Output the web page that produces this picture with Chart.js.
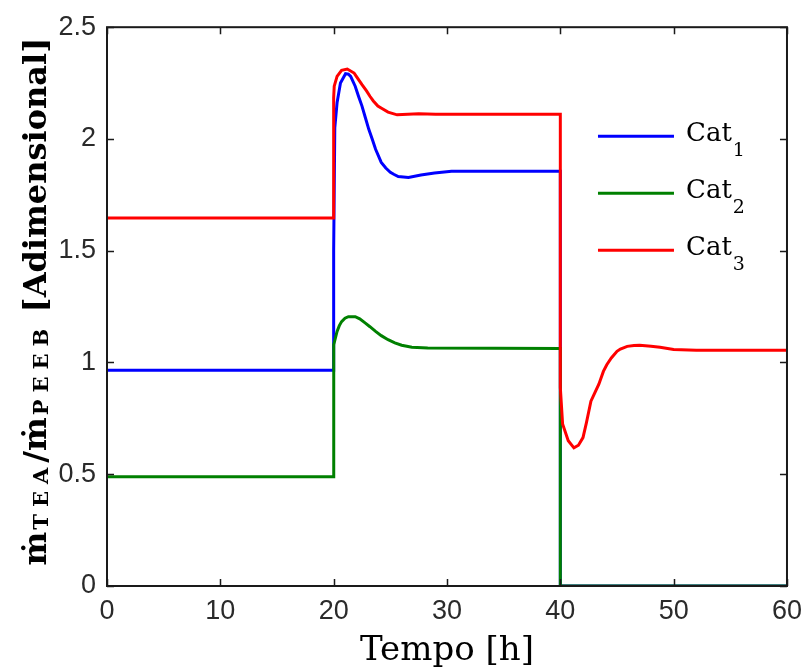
<!DOCTYPE html>
<html>
<head>
<meta charset="utf-8">
<script src="https://cdn.jsdelivr.net/npm/chart.js@4.4.1/dist/chart.umd.min.js"></script>
<style>
html,body{margin:0;padding:0;background:#fff;}
canvas{display:block;}
</style>
</head>
<body>
<canvas id="c" width="811" height="672"></canvas>
<script>
// ---- data ----
const seriesLabels = ['Cat1', 'Cat2', 'Cat3'];
const seriesColors = ['#0000ff', '#008000', '#ff0000'];

const cat1Time  = [0, 20, 20, 20.1, 20.3, 20.6, 21.05, 21.3, 21.5, 21.9, 22.2, 22.5, 22.8, 23.1, 23.4, 23.7, 24.2, 24.6, 25.0, 25.3, 25.7, 26.6, 27.7, 28.9, 30.4, 40, 40, 60];
const cat1Value = [0.965, 0.965, 1.50, 2.05, 2.162, 2.25, 2.292, 2.29, 2.28, 2.236, 2.19, 2.147, 2.095, 2.043, 2.0, 1.954, 1.895, 1.87, 1.851, 1.842, 1.832, 1.828, 1.839, 1.848, 1.855, 1.855, 0, 0];

const cat2Time  = [0, 20, 20, 20, 20.02, 20.3, 20.5, 20.7, 21.0, 21.3, 21.9, 22.3, 22.8, 23.2, 23.7, 24.2, 24.8, 25.4, 26.0, 26.9, 28.3, 40, 40, 60];
const cat2Value = [0.489, 0.489, 1.05, 0.76, 1.08, 1.139, 1.165, 1.183, 1.198, 1.205, 1.205, 1.195, 1.176, 1.16, 1.139, 1.12, 1.102, 1.088, 1.077, 1.068, 1.065, 1.063, 0, 0];

const cat3Time  = [0, 20, 20, 20.05, 20.3, 20.7, 21.2, 21.8, 22.0, 22.5, 22.9, 23.2, 23.5, 23.9, 24.3, 24.8, 25.6, 27.5, 29, 40,
                   40, 40.2, 40.7, 41.2, 41.6, 42.0, 42.3, 42.7, 43.0, 43.4, 43.8, 44.1, 44.5, 45.0, 45.3, 45.9, 46.5, 47.0, 48.0, 48.8, 50, 52, 60];
const cat3Value = [1.646, 1.646, 2.184, 2.236, 2.28, 2.307, 2.313, 2.295, 2.28, 2.243, 2.215, 2.191, 2.17, 2.147, 2.135, 2.12, 2.108, 2.113, 2.11, 2.11,
                   0.888, 0.725, 0.65, 0.618, 0.63, 0.664, 0.73, 0.827, 0.86, 0.903, 0.96, 0.99, 1.02, 1.05, 1.06, 1.072, 1.076, 1.077, 1.073, 1.068, 1.058, 1.055, 1.055];

const xTickValues = [0, 10, 20, 30, 40, 50, 60];
const xTickLabels = ['0', '10', '20', '30', '40', '50', '60'];
const yTickValues = [0, 0.5, 1, 1.5, 2, 2.5];
const yTickLabels = ['0', '0.5', '1', '1.5', '2', '2.5'];

const xTitle = 'Tempo [h]';
const yTitleParts = [
  {text: '\u1E41', sub: false},
  {text: 'TEA', sub: true},
  {text: '/', sub: false},
  {text: '\u1E41', sub: false},
  {text: 'PEEB', sub: true},
  {text: ' [Adimensional]', sub: false}
];

// ---- build datasets ----
const zip = (t, v) => t.map((x, i) => ({x: x, y: v[i]}));
const seriesData = [zip(cat1Time, cat1Value), zip(cat2Time, cat2Value), zip(cat3Time, cat3Value)];
const drawOrder = [2, 1, 0]; // red on top, then green, then blue

const TICK_FONT = "'Liberation Sans', Arial, sans-serif";
const SERIF = "'DejaVu Serif', 'Liberation Serif', serif";

const decorPlugin = {
  id: 'decor',
  afterDatasetsDraw(chart) {
    const {ctx, chartArea: a} = chart;
    const xs = chart.scales.x, ys = chart.scales.y;
    ctx.save();
    // frame
    ctx.strokeStyle = '#1a1a1a';
    ctx.lineWidth = 2;
    ctx.strokeRect(a.left, a.top, a.right - a.left, a.bottom - a.top);
    // inward ticks on all four sides
    ctx.lineWidth = 1.5;
    const tl = 7;
    ctx.beginPath();
    xTickValues.forEach(v => {
      const px = Math.round(xs.getPixelForValue(v)) + 0.5;
      ctx.moveTo(px, a.bottom); ctx.lineTo(px, a.bottom - tl);
      ctx.moveTo(px, a.top); ctx.lineTo(px, a.top + tl);
    });
    yTickValues.forEach(v => {
      const py = Math.round(ys.getPixelForValue(v)) + 0.5;
      ctx.moveTo(a.left, py); ctx.lineTo(a.left + tl, py);
      ctx.moveTo(a.right, py); ctx.lineTo(a.right - tl, py);
    });
    ctx.stroke();

    // legend inside plot area
    chart.data.datasets.forEach((ds, i) => {
      const ly = a.top + 109 + i * 57;
      ctx.strokeStyle = ds.borderColor;
      ctx.lineWidth = 3;
      ctx.beginPath();
      ctx.moveTo(a.right - 189, ly);
      ctx.lineTo(a.right - 113, ly);
      ctx.stroke();
      const m = ds.label.match(/^(\D+)(\d+)$/);
      ctx.fillStyle = '#000';
      ctx.textAlign = 'left';
      ctx.textBaseline = 'alphabetic';
      ctx.font = '26px ' + SERIF;
      ctx.fillText(m[1], a.right - 101, ly + 5);
      const w = ctx.measureText(m[1]).width;
      ctx.font = '19px ' + SERIF;
      ctx.fillText(m[2], a.right - 101 + w + 1, ly + 20);
    });
    ctx.restore();
  },
  afterDraw(chart) {
    const {ctx, chartArea: a} = chart;
    ctx.save();
    ctx.fillStyle = '#000';
    // x title
    ctx.font = '34px ' + SERIF;
    ctx.textAlign = 'center';
    ctx.textBaseline = 'alphabetic';
    ctx.fillText(xTitle, (a.left + a.right) / 2, 660);

    // y title (rotated, with subscripts)
    const mainFont = 'bold 32px ' + SERIF;
    const subFont = 'bold 21px ' + SERIF;
    const subSpacing = 7;
    const widths = yTitleParts.map(p => {
      ctx.font = p.sub ? subFont : mainFont;
      if (p.sub) {
        let w = 0;
        for (const ch of p.text) w += ctx.measureText(ch).width + subSpacing;
        return w;
      }
      return ctx.measureText(p.text).width;
    });
    const total = widths.reduce((s, w) => s + w, 0);
    ctx.translate(46, (a.top + a.bottom) / 2 - 5);
    ctx.rotate(-Math.PI / 2);
    ctx.textAlign = 'left';
    let x = -total / 2;
    yTitleParts.forEach((p, i) => {
      if (p.sub) {
        ctx.font = subFont;
        let cx = x + 2;
        for (const ch of p.text) {
          ctx.fillText(ch, cx, 2);
          cx += ctx.measureText(ch).width + subSpacing;
        }
      } else {
        ctx.font = mainFont;
        ctx.fillText(p.text, x, 0);
      }
      x += widths[i];
    });
    ctx.restore();
  }
};

new Chart(document.getElementById('c'), {
  type: 'line',
  data: {
    datasets: seriesLabels.map((lab, i) => ({
      label: lab,
      data: seriesData[i],
      borderColor: seriesColors[i],
      backgroundColor: seriesColors[i],
      borderWidth: 3,
      pointRadius: 0,
      tension: 0,
      fill: false,
      order: drawOrder[i]
    }))
  },
  options: {
    responsive: false,
    animation: false,
    devicePixelRatio: 1,
    layout: {padding: {left: 0, right: 20, top: 24, bottom: 0}},
    plugins: {legend: {display: false}, tooltip: {enabled: false}, title: {display: false}},
    scales: {
      x: {
        type: 'linear', min: 0, max: 60,
        afterBuildTicks: s => { s.ticks = xTickValues.map(v => ({value: v})); },
        afterFit: s => { s.height = 86; },
        grid: {display: false, drawTicks: false},
        border: {display: false},
        ticks: {
          autoSkip: false, maxRotation: 0, padding: 9, color: '#2a2a2a',
          font: {family: TICK_FONT, size: 27},
          callback: v => xTickLabels[xTickValues.indexOf(v)]
        }
      },
      y: {
        type: 'linear', min: 0, max: 2.5,
        afterBuildTicks: s => { s.ticks = yTickValues.map(v => ({value: v})); },
        afterFit: s => { s.width = 107; },
        grid: {display: false, drawTicks: false},
        border: {display: false},
        ticks: {
          autoSkip: false, padding: 11, color: '#2a2a2a',
          font: {family: TICK_FONT, size: 27},
          callback: v => yTickLabels[yTickValues.indexOf(v)]
        }
      }
    }
  },
  plugins: [decorPlugin]
});
</script>
</body>
</html>
